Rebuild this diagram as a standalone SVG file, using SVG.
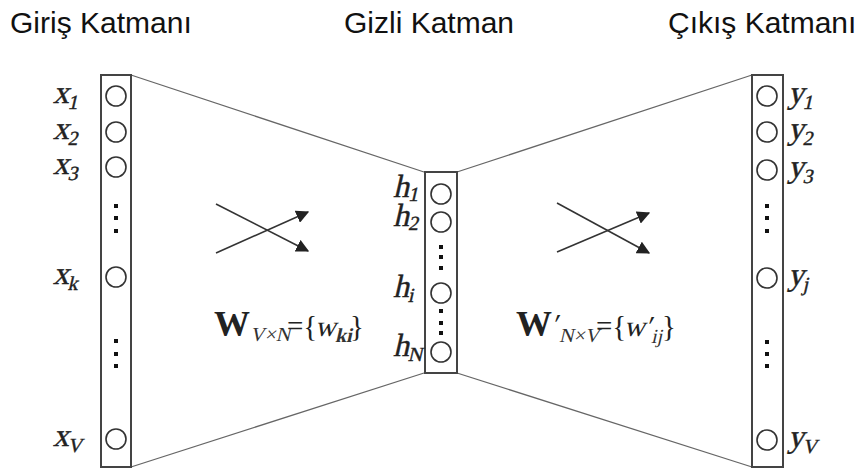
<svg xmlns="http://www.w3.org/2000/svg" width="867" height="471" viewBox="0 0 867 471">
<defs>
<style>
.title{font-family:"Liberation Sans",Arial,sans-serif;font-size:30px;fill:#111}
.lay{fill:#fff;stroke:#444;stroke-width:2}
.neu{fill:#fff;stroke:#333;stroke-width:1.6}
.dot{fill:#111}
.conn{stroke:#666;stroke-width:1.3;fill:none}
.arr{stroke:#333;stroke-width:1.6;fill:none}
.lbl{font-family:"Liberation Serif","Times New Roman",serif;font-size:32px;fill:#222;stroke:#222;stroke-width:0.4}
.sub{font-size:20px}
.fm{font-family:"Liberation Serif","Times New Roman",serif;font-size:29px;fill:#222}
.fw{font-family:"Liberation Serif","Times New Roman",serif;font-size:36px;font-weight:bold;fill:#222}
.fs{font-family:"Liberation Serif","Times New Roman",serif;font-size:20px;fill:#333}
.fb{font-weight:bold}
</style>
<marker id="ah" viewBox="0 0 10 10" refX="9" refY="5" markerWidth="13" markerHeight="13" markerUnits="userSpaceOnUse" orient="auto">
<path d="M0,0 L10,5 L0,10 z" fill="#222"/>
</marker>
</defs>
<rect width="867" height="471" fill="#fff"/>

<g id="titles">
<text class="title" x="10" y="33">Giriş Katmanı</text>
<text class="title" x="344" y="33">Gizli Katman</text>
<text class="title" x="668" y="33">Çıkış Katmanı</text>
</g>

<g id="connectors">
<line class="conn" x1="131" y1="75" x2="424" y2="172"/>
<line class="conn" x1="131" y1="467" x2="424" y2="373"/>
<line class="conn" x1="457" y1="172" x2="752" y2="75"/>
<line class="conn" x1="457" y1="373" x2="752" y2="467"/>
<line class="arr" x1="216" y1="204" x2="308" y2="251" marker-end="url(#ah)"/>
<line class="arr" x1="216" y1="253" x2="308" y2="212" marker-end="url(#ah)"/>
<line class="arr" x1="557" y1="203" x2="649" y2="253" marker-end="url(#ah)"/>
<line class="arr" x1="557" y1="252" x2="649" y2="213" marker-end="url(#ah)"/>
</g>

<g id="input-layer">
<rect class="lay" x="101" y="75" width="30" height="392"/>
<circle class="neu" cx="116" cy="96" r="10"/>
<circle class="neu" cx="116" cy="132" r="10"/>
<circle class="neu" cx="116" cy="167" r="10"/>
<rect class="dot" x="114" y="204" width="4" height="4"/>
<rect class="dot" x="114" y="216" width="4" height="4"/>
<rect class="dot" x="114" y="229" width="4" height="4"/>
<circle class="neu" cx="116" cy="277" r="10"/>
<rect class="dot" x="114" y="339" width="4" height="4"/>
<rect class="dot" x="114" y="352" width="4" height="4"/>
<rect class="dot" x="114" y="364" width="4" height="4"/>
<circle class="neu" cx="116" cy="439" r="10"/>
<text class="lbl" transform="translate(53,103) skewX(-13)">x<tspan class="sub" dy="6">1</tspan></text>
<text class="lbl" transform="translate(53,139) skewX(-13)">x<tspan class="sub" dy="6">2</tspan></text>
<text class="lbl" transform="translate(53,174) skewX(-13)">x<tspan class="sub" dy="6">3</tspan></text>
<text class="lbl" transform="translate(53,284) skewX(-13)">x<tspan class="sub" dy="6">k</tspan></text>
<text class="lbl" transform="translate(53,446) skewX(-13)">x<tspan class="sub" dy="6">V</tspan></text>
</g>

<g id="hidden-layer">
<rect class="lay" x="425" y="172" width="32" height="201"/>
<circle class="neu" cx="441" cy="194" r="10"/>
<circle class="neu" cx="441" cy="222" r="10"/>
<rect class="dot" x="439" y="245" width="4" height="4"/>
<rect class="dot" x="439" y="255" width="4" height="4"/>
<rect class="dot" x="439" y="266" width="4" height="4"/>
<circle class="neu" cx="441" cy="293" r="10"/>
<rect class="dot" x="439" y="309" width="4" height="4"/>
<rect class="dot" x="439" y="321" width="4" height="4"/>
<rect class="dot" x="439" y="331" width="4" height="4"/>
<circle class="neu" cx="441" cy="352" r="10"/>
<text class="lbl" transform="translate(393,197) skewX(-13)">h<tspan class="sub" dy="4">1</tspan></text>
<text class="lbl" transform="translate(393,226) skewX(-13)">h<tspan class="sub" dy="4">2</tspan></text>
<text class="lbl" transform="translate(393,297) skewX(-13)">h<tspan class="sub" dy="5">i</tspan></text>
<text class="lbl" transform="translate(393,356) skewX(-13)">h<tspan class="sub" dy="5">N</tspan></text>
</g>

<g id="output-layer">
<rect class="lay" x="752" y="75" width="31" height="392"/>
<circle class="neu" cx="767" cy="96" r="10"/>
<circle class="neu" cx="767" cy="132" r="10"/>
<circle class="neu" cx="767" cy="170" r="10"/>
<rect class="dot" x="765" y="204" width="4" height="4"/>
<rect class="dot" x="765" y="216" width="4" height="4"/>
<rect class="dot" x="765" y="229" width="4" height="4"/>
<circle class="neu" cx="767" cy="278" r="10"/>
<rect class="dot" x="765" y="340" width="4" height="4"/>
<rect class="dot" x="765" y="352" width="4" height="4"/>
<rect class="dot" x="765" y="364" width="4" height="4"/>
<circle class="neu" cx="767" cy="440" r="10"/>
<text class="lbl" transform="translate(788,103) skewX(-13)">y<tspan class="sub" dy="6">1</tspan></text>
<text class="lbl" transform="translate(788,139) skewX(-13)">y<tspan class="sub" dy="6">2</tspan></text>
<text class="lbl" transform="translate(788,177) skewX(-13)">y<tspan class="sub" dy="6">3</tspan></text>
<text class="lbl" transform="translate(788,285) skewX(-13)">y<tspan class="sub" dy="6">j</tspan></text>
<text class="lbl" transform="translate(788,447) skewX(-13)">y<tspan class="sub" dy="6">V</tspan></text>
</g>

<g id="weights-in">
<text class="fw" x="214" y="336">W</text>
<text class="fs" transform="translate(250,341) skewX(-13)">V×N</text>
<text class="fm" x="287" y="336">={</text>
<text class="fm" transform="translate(315,336) skewX(-13)">w</text>
<text class="fs fb" transform="translate(335,342) skewX(-13)">ki</text>
<text class="fm" x="350" y="336">}</text>
</g>
<g id="weights-out">
<text class="fw" x="516" y="336">W</text>
<text class="fm" transform="translate(551,334) skewX(-13)">′</text>
<text class="fs" transform="translate(559,342) skewX(-13)">N×V</text>
<text class="fm" x="596" y="336">={</text>
<text class="fm" transform="translate(624,336) skewX(-13)">w′</text>
<text class="fs" transform="translate(651,343) skewX(-13)">ij</text>
<text class="fm" x="662" y="336">}</text>
</g>
</svg>
